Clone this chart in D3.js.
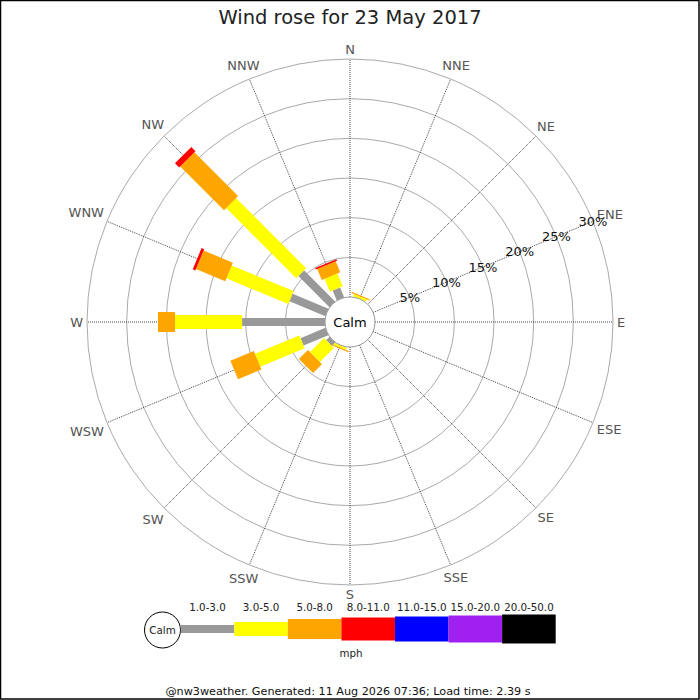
<!DOCTYPE html>
<html>
<head>
<meta charset="utf-8">
<script src="https://cdn.jsdelivr.net/npm/d3@7"></script>
<style>
  body { margin: 0; background: #fff; }
  svg { display: block; font-family: "DejaVu Sans", sans-serif; }
  .compass { fill: #555; font-size: 13px; }
  .pct { fill: #111; font-size: 13px; }
  .leg { fill: #222; font-size: 10.3px; }
</style>
</head>
<body>
<svg id="chart"></svg>
<script>
const width = 700;
const height = 700;
const cx = 350;
const cy = 322;
const calmRadius = 25;
const outerRadius = 263;

// compass points, clockwise from north
const directions = ['N', 'NNE', 'NE', 'ENE', 'E', 'ESE', 'SE', 'SSE',
  'S', 'SSW', 'SW', 'WSW', 'W', 'WNW', 'NW', 'NNW'];
const speedBands = ['1.0-3.0', '3.0-5.0', '5.0-8.0', '8.0-11.0', '11.0-15.0', '15.0-20.0', '20.0-50.0'];
const rangeTicks = [5, 10, 15, 20, 25, 30];

// percentage of the day per direction, one array per speed band (mph)
const band1to3 = [0, 0, 0, 0, 0, 0, 0, 0, 0, 0, 0.6, 3.4, 10.45, 4.9, 5.55, 1.35];
const band3to5 = [0, 0.3, 0, 0, 0, 0, 0, 0, 0, 0.3, 2.5, 6.05, 8.45, 8.45, 12.5, 1.75];
const band5to8 = [0, 0.15, 0, 0, 0, 0, 0, 0, 0, 0.15, 1.6, 3.2, 2.15, 4.0, 7.8, 1.5];
const band8to11 = [0, 0, 0, 0, 0, 0, 0, 0, 0, 0, 0, 0, 0, 0.35, 0.75, 0.2];
const band11to15 = [0, 0, 0, 0, 0, 0, 0, 0, 0, 0, 0, 0, 0, 0, 0, 0];
const band15to20 = [0, 0, 0, 0, 0, 0, 0, 0, 0, 0, 0, 0, 0, 0, 0, 0];
const band20to50 = [0, 0, 0, 0, 0, 0, 0, 0, 0, 0, 0, 0, 0, 0, 0, 0];
const bandSeries = [band1to3, band3to5, band5to8, band8to11, band11to15, band15to20, band20to50];

const bandColors = ['#999999', '#ffff00', '#ffa500', '#ff0000', '#0000ff', '#a020f0', '#000000'];
const bandWidths = [8, 14, 20, 23, 25, 27, 29];

const svg = d3.select('#chart')
  .attr('width', width)
  .attr('height', height);

svg.append('rect')
  .attr('x', 0.5).attr('y', 0.5)
  .attr('width', width - 1.5).attr('height', height - 1.5)
  .attr('fill', '#fff')
  .attr('stroke', '#000')
  .attr('stroke-width', 1.5);

svg.append('text')
  .attr('x', cx).attr('y', 24)
  .attr('text-anchor', 'middle')
  .attr('font-size', 19.5)
  .attr('fill', '#222')
  .text('Wind rose for 23 May 2017');

const r = d3.scaleLinear()
  .domain([0, 30])
  .range([calmRadius, outerRadius]);

const angle = d3.scaleLinear()
  .domain([0, directions.length])
  .range([0, 360]);

function polar(deg, rad) {
  const a = deg * Math.PI / 180;
  return { x: cx + rad * Math.sin(a), y: cy - rad * Math.cos(a) };
}

// ===========================================================================
//      grid
// ===========================================================================
const grid = svg.append('g');

grid.selectAll('circle.ring')
  .data(rangeTicks)
  .enter()
  .append('circle')
  .attr('class', 'ring')
  .attr('cx', cx).attr('cy', cy)
  .attr('r', d => r(d))
  .attr('fill', 'none')
  .attr('stroke', '#aaa')
  .attr('stroke-width', 1);

grid.selectAll('line.spoke')
  .data(directions)
  .enter()
  .append('line')
  .attr('class', 'spoke')
  .attr('x1', (d, i) => polar(angle(i), calmRadius).x)
  .attr('y1', (d, i) => polar(angle(i), calmRadius).y)
  .attr('x2', (d, i) => polar(angle(i), outerRadius).x)
  .attr('y2', (d, i) => polar(angle(i), outerRadius).y)
  .attr('stroke', '#444')
  .attr('stroke-width', 1)
  .attr('stroke-dasharray', '1,1');

// compass labels, pushed out by their own size
grid.selectAll('text.compass')
  .data(directions)
  .enter()
  .append('text')
  .attr('class', 'compass')
  .attr('text-anchor', 'middle')
  .attr('dy', '0.36em')
  .text(d => d)
  .each(function (d, i) {
    const a = angle(i) * Math.PI / 180;
    const halfW = this.getComputedTextLength() / 2;
    const dist = 267 + Math.abs(Math.sin(a)) * halfW + Math.abs(Math.cos(a)) * 5.5;
    const p = polar(angle(i), dist);
    d3.select(this).attr('x', p.x).attr('y', p.y);
  });

// ===========================================================================
//      bars
// ===========================================================================
const cumulative = directions.map(function (dir, i) {
  let sum = 0;
  return bandSeries.map(function (series, b) {
    const start = sum;
    sum += series[i];
    return { dir: i, band: b, start, end: sum };
  });
});

const petals = svg.append('g')
  .selectAll('g.petal')
  .data(cumulative)
  .enter()
  .append('g')
  .attr('class', 'petal')
  .attr('transform', (d, i) => `translate(${cx},${cy}) rotate(${angle(i)})`);

petals.selectAll('rect')
  .data(d => d.filter(s => s.end > s.start))
  .enter()
  .append('rect')
  .attr('x', d => -bandWidths[d.band] / 2)
  .attr('y', d => -r(d.end))
  .attr('width', d => bandWidths[d.band])
  .attr('height', d => r(d.end) - r(d.start))
  .attr('fill', d => bandColors[d.band]);

// percentage labels along ENE
svg.append('g')
  .selectAll('text')
  .data(rangeTicks)
  .enter()
  .append('text')
  .attr('class', 'pct')
  .attr('text-anchor', 'middle')
  .attr('dy', '0.36em')
  .attr('x', d => polar(67.5, r(d)).x)
  .attr('y', d => polar(67.5, r(d)).y)
  .text(d => `${d}%`);

svg.append('circle')
  .attr('cx', cx).attr('cy', cy)
  .attr('r', calmRadius)
  .attr('fill', '#fff')
  .attr('stroke', '#999');

svg.append('text')
  .attr('x', cx).attr('y', cy)
  .attr('dy', '0.36em')
  .attr('text-anchor', 'middle')
  .attr('font-size', 13)
  .attr('fill', '#000')
  .text('Calm');

// ===========================================================================
//      legend
// ===========================================================================
const legendY = 629;
const lx = d3.scaleBand()
  .domain(speedBands)
  .range([180.7, 555.7]);

const legend = svg.append('g');

legend.append('circle')
  .attr('cx', 162.5).attr('cy', legendY + 1)
  .attr('r', 18)
  .attr('fill', '#fff')
  .attr('stroke', '#000');

legend.append('text')
  .attr('x', 162.5).attr('y', legendY + 1)
  .attr('dy', '0.36em')
  .attr('text-anchor', 'middle')
  .attr('class', 'leg')
  .attr('font-size', 10.5)
  .text('Calm');

legend.selectAll('rect')
  .data(speedBands)
  .enter()
  .append('rect')
  .attr('x', d => lx(d))
  .attr('y', (d, i) => legendY - bandWidths[i] / 2)
  .attr('width', lx.bandwidth())
  .attr('height', (d, i) => bandWidths[i])
  .attr('fill', (d, i) => bandColors[i]);

legend.selectAll('text.band')
  .data(speedBands)
  .enter()
  .append('text')
  .attr('class', 'leg band')
  .attr('x', d => lx(d) + lx.bandwidth() / 2)
  .attr('y', 610.5)
  .attr('text-anchor', 'middle')
  .text(d => d);

legend.append('text')
  .attr('class', 'leg')
  .attr('x', 351).attr('y', 657)
  .attr('text-anchor', 'middle')
  .text('mph');

svg.append('text')
  .attr('x', 348).attr('y', 695)
  .attr('text-anchor', 'middle')
  .attr('font-size', 11.2)
  .attr('fill', '#111')
  .text('@nw3weather. Generated: 11 Aug 2026 07:36; Load time: 2.39 s');
</script>
</body>
</html>
